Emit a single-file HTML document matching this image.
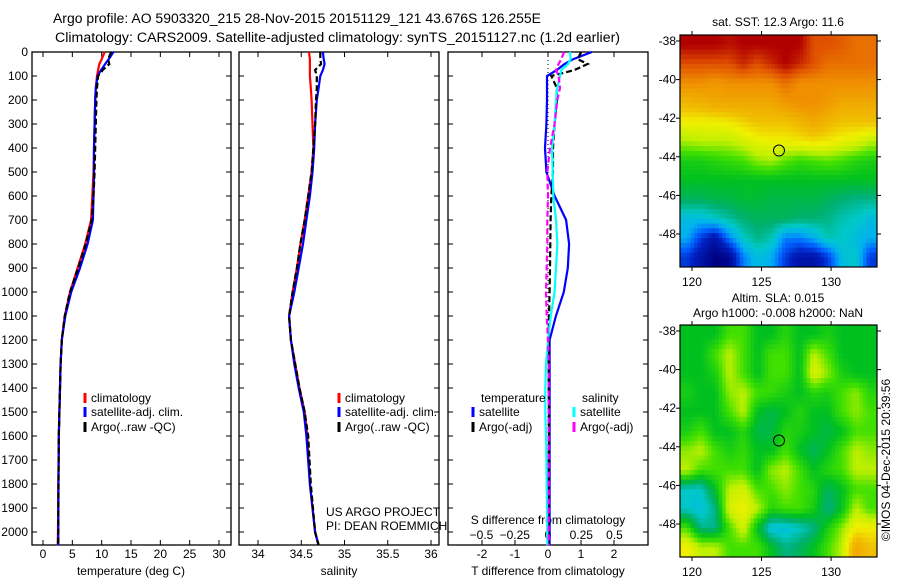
<!DOCTYPE html>
<html><head><meta charset="utf-8"><style>
body{margin:0;background:#fff;}
svg{display:block;font-family:"Liberation Sans",sans-serif;}
</style></head><body>
<svg id="c" width="900" height="580" viewBox="0 0 900 580" xmlns="http://www.w3.org/2000/svg">
<rect width="900" height="580" fill="#fff"/>
<text x="53" y="23" font-size="13.5" textLength="488" lengthAdjust="spacingAndGlyphs">Argo profile: AO 5903320_215 28-Nov-2015 20151129_121 43.676S 126.255E</text>
<text x="55" y="42" font-size="13.5" textLength="565" lengthAdjust="spacingAndGlyphs">Climatology: CARS2009. Satellite-adjusted climatology: synTS_20151127.nc (1.2d earlier)</text>
<g id="g"></g>
</svg>
<script>
// ---- data ----
const depths=[0,30,50,75,100,150,200,300,400,500,600,700,800,900,1000,1100,1200,1300,1400,1500,1600,1800,2000,2055];
const tempClim=[10.5,10.0,9.6,9.4,9.2,9.0,8.9,8.8,8.7,8.6,8.4,8.2,7.2,5.9,4.6,3.7,3.2,3.0,2.9,2.8,2.7,2.6,2.55,2.5];
const tempSat=[12.0,11.2,10.6,9.9,9.3,9.0,8.9,8.8,8.7,8.7,8.6,8.5,7.6,6.3,4.8,3.8,3.2,3.0,2.9,2.8,2.7,2.65,2.6,2.6];
const tempArgo=[11.6,11.1,11.3,10.2,9.4,9.2,9.1,9.0,8.9,8.8,8.6,8.3,7.3,6.0,4.6,3.7,3.2,3.0,2.9,2.8,2.7,2.65,2.6,2.6];
const salClim=[34.59,34.6,34.6,34.6,34.6,34.61,34.62,34.63,34.64,34.62,34.58,34.54,34.49,34.45,34.4,34.36,34.38,34.43,34.48,34.54,34.57,34.6,34.66,34.7];
const salSat=[34.75,34.76,34.77,34.75,34.72,34.7,34.68,34.66,34.65,34.63,34.6,34.56,34.52,34.47,34.42,34.36,34.38,34.42,34.47,34.53,34.56,34.6,34.66,34.7];
const salArgo=[34.72,34.72,34.73,34.66,34.68,34.68,34.67,34.66,34.64,34.62,34.58,34.54,34.49,34.45,34.4,34.36,34.38,34.43,34.48,34.54,34.58,34.61,34.66,34.7];
const tdSat=[1.33,0.76,0.5,0.27,-0.03,-0.03,-0.03,-0.05,-0.09,-0.05,0.2,0.55,0.64,0.6,0.48,0.24,0.05,0.05,0.05,0.05,0.05,0.05,0.05,0.05];
const tdArgo=[1.0,0.9,1.2,0.8,0.1,0.27,0.27,0.2,0.15,0.15,0.1,0.08,0.07,0.06,0.05,0.03,0.02,0.02,0.02,0.03,0.03,0.02,0.02,0.02];
const sdSat=[0.165,0.17,0.15,0.1,0.09,0.07,0.06,0.05,0.03,0.035,0.04,0.06,0.07,0.06,0.05,0.02,0,-0.015,-0.02,-0.02,-0.015,-0.01,-0.005,-0.005];
const sdArgo=[0.12,0.1,0.08,0.06,0.08,0.09,0.07,0.05,0.015,-0.005,0,-0.005,-0.005,-0.01,-0.015,-0.01,0,0.005,0.005,0.005,0.005,0.005,0.005,0.005];
const depthTicks=[0,100,200,300,400,500,600,700,800,900,1000,1100,1200,1300,1400,1500,1600,1700,1800,1900,2000];
const tempTicks=[0,5,10,15,20,25,30];
const salTicks=[34,34.5,35,35.5,36];
const tdTicks=[-2,-1,0,1,2];
const sdTicks=[-0.5,-0.25,0,0.25,0.5];
const lonTicks=[120,125,130];
const latTicks=[-38,-40,-42,-44,-46,-48];
const argoLon=126.255, argoLat=-43.676;
const sstGrid=[
[16,16,16,15.8,16,16,16,16,16,15,15,14.8,14.5,14.5],
[15,15,15,15,15.5,15,15.5,16,15.5,15,14.5,14.5,14.5,14.5],
[14,14,13.8,14,14,14,14,14.5,14,14,14,14,14,14],
[13.2,13.3,13.5,13.5,13.5,13.5,13.5,13.8,14,14,13.8,13.5,13.5,13.5],
[12.5,12.5,12.5,12.6,12.8,13,13,13,13.2,13.5,13.2,13,13,13],
[11.9,12,12,12,12.2,12.4,12.5,12.5,12.6,12.7,12.6,12.4,12.3,12],
[11.2,11.2,11.3,11.4,11.5,11.8,11.9,11.6,11.4,11.5,11.6,11.5,11.3,11.2],
[11,11,11,11,11,11,11,11,11,11,11,11,11,11],
[10.7,10.7,10.8,10.8,10.9,10.9,10.8,10.8,10.8,10.8,10.7,10.6,10.5,10.5],
[10,10,10.2,10.4,10.6,10.7,10.7,10.7,10.6,10.6,10.5,10.3,10.2,10],
[9.8,9,8.5,9.5,10.2,10.5,10.3,9.5,9.5,9.8,10.3,10.2,10,9.8],
[9,8.5,8,8.2,9.5,10,9.8,9,8.5,8.5,9,10,10.2,9]];
const slaGrid=[
[0,0,0,0.05,0.05,0,0,0.03,0,0,0.02,0,0,0],
[0,0,0.05,0.1,0.05,0,0.05,0.05,0,0.1,0.05,0,0,0],
[0,0,0.02,0.1,0.05,0,0.05,0.05,0,0.13,0.08,0.02,0,0],
[0.02,0,0,0.08,0.1,0.05,0.04,0.02,0,0.03,0.02,0.05,0.08,0.03],
[0,0,0,0.05,0.1,0,-0.02,0,0.03,0,0,0.05,0.08,0.05],
[0.02,0.05,0,0,0.03,-0.02,-0.02,0.03,0.02,0,-0.02,0,0.05,0.05],
[0.08,0.1,0.05,0.02,0.04,0,0,0.05,0,-0.03,0,0.05,0.1,0.08],
[0.1,0.05,0.05,0.05,0.05,0,0.08,0.1,0.05,0,0.03,0.05,0.1,0.1],
[-0.08,-0.08,0,0.1,0.12,0.05,0.05,0.08,0.05,0.03,-0.03,0,0.05,0.05],
[-0.08,-0.1,-0.05,0.12,0.15,0.1,0.03,0.05,0.05,0.02,-0.05,0,0.1,0.05],
[0.05,-0.05,-0.05,0.05,0.12,0,-0.1,-0.1,-0.08,-0.05,0.02,0.08,0.15,0.15],
[0.15,0.1,0.1,0.05,0.05,0.05,0,-0.05,-0.03,0,0.05,0.1,0.25,0.2]];

// ---- helpers ----
const NS="http://www.w3.org/2000/svg";
const G=document.getElementById('g');
function el(tag,attrs,parent){const e=document.createElementNS(NS,tag);for(const k in attrs)e.setAttribute(k,attrs[k]);(parent||G).appendChild(e);return e;}
function txt(x,y,s,anchor,size,name){const t=el('text',{x:x,y:y,'font-size':size||12,'text-anchor':anchor||'start'});t.textContent=s;


return t;}
const PT=52,PB=545;
const yD=d=>PT+d*0.24;
const xT=v=>43+v*5.867;
const xS=v=>258+(v-34)*86.5;
const xTd=v=>548+v*33;
const xSd=v=>548+v*133;

function panel(x0,x1,name){
  const r=el('rect',{x:x0,y:PT,width:x1-x0,height:PB-PT,fill:'none',stroke:'#000','stroke-width':1.3});
  
  
  depthTicks.forEach(d=>{el('line',{x1:x0,x2:x0+5,y1:yD(d),y2:yD(d),stroke:'#000'});el('line',{x1:x1,x2:x1-5,y1:yD(d),y2:yD(d),stroke:'#000'});});
}
function xticks(ticks,fx,x0,yl,fmt,name){
  ticks.forEach(v=>{const x=fx(v);el('line',{x1:x,x2:x,y1:PB,y2:PB-5,stroke:'#000'});el('line',{x1:x,x2:x,y1:PT,y2:PT+5,stroke:'#000'});
  txt(x,yl,fmt?fmt(v):String(v),'middle',12,name);});
}
function line(xs,fx,color,dash,name,w){
  const pts=depths.map((d,i)=>fx(xs[i]).toFixed(1)+','+yD(d).toFixed(1)).join(' ');
  const p=el('polyline',{points:pts,fill:'none',stroke:color,'stroke-width':w||2.2});
  if(dash)p.setAttribute('stroke-dasharray',dash);
  
  
}
function legend(x,y,color,label,name){
  const l=el('line',{x1:x,x2:x,y1:y-9,y2:y+1,stroke:color,'stroke-width':3});
  
  
  txt(x+6,y,label,'start',12,name);
}

// panel 1 temperature
panel(32,231,'temperature-panel');
depthTicks.forEach(d=>txt(28,yD(d)+4,String(d),'end',12,'depth-tick-label'));
xticks(tempTicks,xT,32,558,null,'temperature-tick-label');
txt(131,575,'temperature (deg C)','middle',12,'temperature-axis-title');
line(tempClim,xT,'#f00',null,'temperature-climatology-line');
line(tempSat,xT,'#00f',null,'temperature-satellite-line');
line(tempArgo,xT,'#000','6,3','temperature-argo-line');
legend(85,402,'#f00','climatology','legend-climatology');
legend(85,416,'#00f','satellite-adj. clim.','legend-satellite');
legend(85,431,'#000','Argo(..raw -QC)','legend-argo');

// panel 2 salinity
panel(239,439,'salinity-panel');
xticks(salTicks,xS,239,558,null,'salinity-tick-label');
txt(339,575,'salinity','middle',12,'salinity-axis-title');
line(salClim,xS,'#f00',null,'salinity-climatology-line');
line(salSat,xS,'#00f',null,'salinity-satellite-line');
line(salArgo,xS,'#000','6,3','salinity-argo-line');
legend(339,402,'#f00','climatology','legend-climatology-2');
legend(339,416,'#00f','satellite-adj. clim.','legend-satellite-2');
legend(339,431,'#000','Argo(..raw -QC)','legend-argo-2');
txt(326,516,'US ARGO PROJECT','start',12,'project-label');
txt(326,530,'PI: DEAN ROEMMICH','start',12,'pi-label');

// panel 3 differences
panel(448,648,'difference-panel');
xticks(tdTicks,xTd,448,558,null,'t-diff-tick-label');
sdTicks.forEach(v=>txt(xSd(v),539,String(v).replace('-','\u2212'),'middle',12,'s-diff-tick-label'));
txt(548,575,'T difference from climatology','middle',12,'t-diff-axis-title');
txt(548,524,'S difference from climatology','middle',12,'s-diff-axis-title');
el('line',{x1:xTd(0),x2:xTd(0),y1:PT,y2:PB,stroke:'#000','stroke-dasharray':'1,3'});
line(tdSat,xTd,'#00f',null,'t-diff-satellite-line');
line(tdArgo,xTd,'#000','6,3','t-diff-argo-line');
line(sdSat,xSd,'#0ff',null,'s-diff-satellite-line');
line(sdArgo,xSd,'#f0f','6,3','s-diff-argo-line');
txt(481,402,'temperature','start',12,'legend-temperature-heading');
txt(582,402,'salinity','start',12,'legend-salinity-heading');
legend(473,416,'#00f','satellite','legend-t-satellite');
legend(473,431,'#000','Argo(-adj)','legend-t-argo');
legend(574,416,'#0ff','satellite','legend-s-satellite');
legend(574,431,'#f0f','Argo(-adj)','legend-s-argo');

// ---- maps ----
const stops=[[8,[0,0,128]],[8.8,[0,32,192]],[9.3,[0,96,255]],[9.8,[0,176,240]],[10.2,[0,200,200]],[10.6,[0,176,112]],[11,[0,192,32]],[11.5,[64,224,0]],[12,[192,240,0]],[12.5,[240,240,0]],[13,[240,192,0]],[14,[240,144,0]],[15,[224,80,0]],[16,[176,0,0]]];
function cmap(v){if(v<=stops[0][0])return 'rgb('+stops[0][1]+')';
for(let i=1;i<stops.length;i++){if(v<=stops[i][0]){const a=stops[i-1],b=stops[i],t=(v-a[0])/(b[0]-a[0]);
return 'rgb('+a[1].map((c,k)=>Math.round(c+(b[1][k]-c)*t)).join(',')+')';}}
return 'rgb('+stops[stops.length-1][1]+')';}
const MX0=680,MX1=877,LON0=119.14,LON1=133.3,LAT0=-37.69,LAT1=-49.71;
const mx=l=>MX0+(l-LON0)*(MX1-MX0)/(LON1-LON0);
function sample(grid,fr,fc){
  const R=grid.length-1,C=grid[0].length-1;
  fr=Math.max(0,Math.min(R,fr));fc=Math.max(0,Math.min(C,fc));
  const r0=Math.floor(fr),c0=Math.floor(fc),r1=Math.min(R,r0+1),c1=Math.min(C,c0+1),tr=fr-r0,tc=fc-c0;
  return (grid[r0][c0]*(1-tc)+grid[r0][c1]*tc)*(1-tr)+(grid[r1][c0]*(1-tc)+grid[r1][c1]*tc)*tr;
}
function drawMap(grid,conv,top,name){
  const bot=top+232,my=lat=>top+(LAT0-lat)*(bot-top)/(LAT0-LAT1);
  const gg=el('g',{});
  
  
  const rows=grid.length,cols=grid[0].length,S=4,cw=(MX1-MX0)/(cols*S),ch=(bot-top)/(rows*S);
  for(let r=0;r<rows*S;r++)for(let c=0;c<cols*S;c++){
    const v=sample(grid,(r+0.5)/S-0.5,(c+0.5)/S-0.5);
    const cell=el('rect',{x:(MX0+c*cw).toFixed(2),y:(top+r*ch).toFixed(2),width:(cw+0.5).toFixed(2),height:(ch+0.5).toFixed(2),fill:cmap(conv(v))},gg);
    
    
  }
  el('rect',{x:MX0,y:top,width:MX1-MX0,height:bot-top,fill:'none',stroke:'#000','stroke-width':1.2});
  lonTicks.forEach(l=>{el('line',{x1:mx(l),x2:mx(l),y1:bot,y2:bot+4,stroke:'#000'});el('line',{x1:mx(l),x2:mx(l),y1:top,y2:top-4,stroke:'#000'});txt(mx(l),bot+19,String(l),'middle',12,'lon-tick-label');});
  latTicks.forEach(l=>{el('line',{x1:MX0,x2:MX0-4,y1:my(l),y2:my(l),stroke:'#000'});el('line',{x1:MX1,x2:MX1+4,y1:my(l),y2:my(l),stroke:'#000'});txt(676,my(l)+4,String(l),'end',12,'lat-tick-label');});
  const c=el('circle',{cx:mx(argoLon),cy:my(argoLat),r:5.5,fill:'none',stroke:'#000','stroke-width':1});
  
  
}
drawMap(sstGrid,v=>v,35,'sst-map');
drawMap(slaGrid,v=>11+v*10,325,'sla-map');
txt(778,26,'sat. SST: 12.3 Argo: 11.6','middle',12,'sst-map-title');
txt(778,302,'Altim. SLA: 0.015','middle',12,'sla-map-title');
txt(778,317,'Argo h1000: -0.008 h2000: NaN','middle',12,'sla-map-subtitle');
const r=txt(0,0,'\u00a9IMOS 04-Dec-2015 20:39:56','middle',12,'timestamp-label');
r.setAttribute('transform','translate(890,460) rotate(-90)');
</script>
</body></html>
